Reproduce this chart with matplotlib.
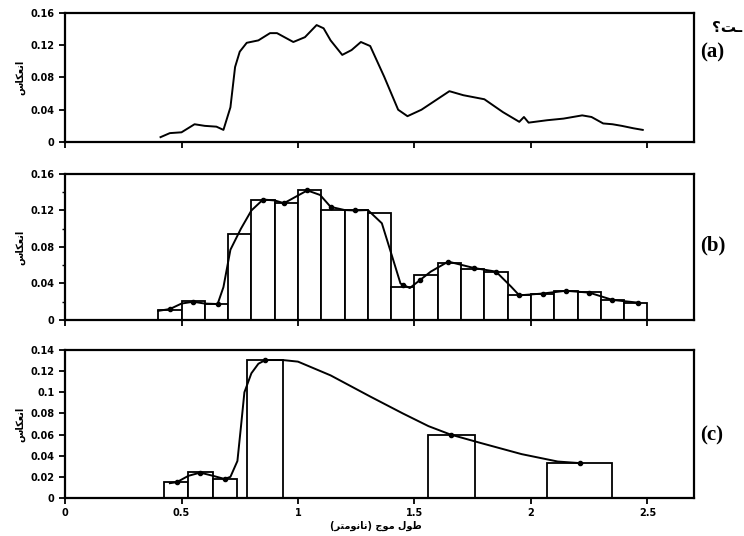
import matplotlib
matplotlib.use('Agg')
import matplotlib.pyplot as plt
from matplotlib.ticker import MultipleLocator, FormatStrFormatter
import numpy as np

# panel (a) - measured spectrum
wl_a = [0.41, 0.45, 0.50, 0.556, 0.60, 0.65, 0.68, 0.71, 0.73, 0.75, 0.78, 0.83, 0.88,
        0.91, 0.98, 1.03, 1.08, 1.11, 1.14, 1.19, 1.23, 1.27, 1.31, 1.37, 1.43, 1.47,
        1.53, 1.65, 1.71, 1.80, 1.88, 1.95, 1.97, 1.99, 2.07, 2.14, 2.22, 2.26, 2.31,
        2.35, 2.39, 2.44, 2.48]
refl_a = [0.006, 0.011, 0.012, 0.022, 0.020, 0.019, 0.015, 0.043, 0.093, 0.112, 0.123,
          0.126, 0.135, 0.135, 0.124, 0.130, 0.145, 0.141, 0.126, 0.108, 0.114, 0.124,
          0.119, 0.081, 0.040, 0.032, 0.040, 0.063, 0.058, 0.053, 0.037, 0.025, 0.031,
          0.024, 0.027, 0.029, 0.033, 0.031, 0.023, 0.022, 0.020, 0.017, 0.015]

# panel (b) - 0.1 um bands
band_lo_b = [0.4, 0.5, 0.6, 0.7, 0.8, 0.9, 1.0, 1.1, 1.2, 1.3, 1.4, 1.5, 1.6, 1.7,
             1.8, 1.9, 2.0, 2.1, 2.2, 2.3, 2.4]
band_hi_b = [0.5, 0.6, 0.7, 0.8, 0.9, 1.0, 1.1, 1.2, 1.3, 1.4, 1.5, 1.6, 1.7, 1.8,
             1.9, 2.0, 2.1, 2.2, 2.3, 2.4, 2.5]
bar_b = [0.011, 0.021, 0.018, 0.094, 0.131, 0.128, 0.142, 0.121, 0.120, 0.117, 0.0365,
         0.049, 0.063, 0.056, 0.053, 0.0274, 0.029, 0.032, 0.031, 0.022, 0.019]
wl_b = [0.40, 0.45, 0.50, 0.55, 0.60, 0.655, 0.68, 0.71, 0.755, 0.80, 0.85, 0.90, 0.94,
        0.99, 1.04, 1.095, 1.14, 1.20, 1.245, 1.30, 1.36, 1.405, 1.44, 1.48, 1.525,
        1.57, 1.645, 1.755, 1.85, 1.915, 1.95, 2.05, 2.15, 2.25, 2.35, 2.46]
refl_b = [0.010, 0.012, 0.018, 0.020, 0.018, 0.0175, 0.036, 0.077, 0.100, 0.120, 0.132,
          0.131, 0.128, 0.135, 0.142, 0.137, 0.124, 0.1205, 0.120, 0.1205, 0.106, 0.069,
          0.040, 0.035, 0.044, 0.053, 0.064, 0.057, 0.053, 0.0365, 0.027, 0.029, 0.032,
          0.030, 0.022, 0.019]
mark_x_b = [0.45, 0.55, 0.655, 0.85, 0.94, 1.04, 1.14, 1.245, 1.45, 1.525, 1.645,
            1.755, 1.85, 1.95, 2.05, 2.15, 2.25, 2.35, 2.46]
mark_y_b = [0.012, 0.020, 0.0175, 0.132, 0.128, 0.142, 0.124, 0.120, 0.038, 0.044,
            0.064, 0.057, 0.053, 0.027, 0.029, 0.032, 0.030, 0.022, 0.019]

# panel (c) - sensor bands
band_lo_c = [0.425, 0.53, 0.635, 0.78, 1.56, 2.07]
band_hi_c = [0.53, 0.635, 0.74, 0.935, 1.76, 2.35]
bar_c = [0.0155, 0.0243, 0.018, 0.1305, 0.060, 0.0328]
wl_c = [0.45, 0.48, 0.53, 0.58, 0.635, 0.685, 0.71, 0.74, 0.755, 0.77, 0.80, 0.83, 0.86,
        0.935, 1.0, 1.14, 1.31, 1.45, 1.56, 1.655, 1.785, 1.96, 2.115, 2.21]
refl_c = [0.014, 0.015, 0.021, 0.024, 0.021, 0.018, 0.020, 0.035, 0.067, 0.100, 0.118,
          0.127, 0.1305, 0.1305, 0.129, 0.116, 0.096, 0.080, 0.068, 0.060, 0.052, 0.0415,
          0.0345, 0.033]
mark_x_c = [0.48, 0.58, 0.685, 0.86, 1.655, 2.21]
mark_y_c = [0.015, 0.024, 0.018, 0.1305, 0.060, 0.033]

xticks = [0, 0.5, 1, 1.5, 2, 2.5]

# Persian text, glyphs in visual order
ylabel_fa = '\uFEB1\uFE8E\uFB91\uFECC\uFEE7\uFE8D'   # انعکاس
xlabel_fa = '(\uFEAE\uFE98\uFEE3\uFEEE\uFEE7\uFE8E\uFEE7) \uFE9D\uFEEE\uFEE3 \uFEDD\uFEEE\uFEC3'  # طول موج (نانومتر)


def style_axes(ax, ymax, ystep, minor=None):
    ax.set_xlim(0, 2.7)
    ax.set_ylim(0, ymax)
    ax.set_xticks(xticks)
    ax.yaxis.set_major_locator(MultipleLocator(ystep))
    ax.yaxis.set_major_formatter(FormatStrFormatter('%g'))
    if minor:
        ax.yaxis.set_minor_locator(MultipleLocator(minor))
    for s in ax.spines.values():
        s.set_linewidth(1.6)
    ax.tick_params(axis='both', which='major', direction='out', length=4, width=1.3,
                   labelsize=7)
    ax.tick_params(axis='y', which='minor', direction='out', length=2.5, width=1)
    for lab in ax.get_yticklabels() + ax.get_xticklabels():
        lab.set_fontweight('bold')


fig = plt.figure(figsize=(7.44, 5.36), dpi=100)
ax_a = fig.add_axes([0.0874, 0.7351, 0.8454, 0.2407])
ax_b = fig.add_axes([0.0874, 0.4030, 0.8454, 0.2724])
ax_c = fig.add_axes([0.0874, 0.0709, 0.8454, 0.2761])

# (a)
ax_a.plot(wl_a, refl_a, color='black', lw=1.4)
style_axes(ax_a, 0.16, 0.04)
ax_a.set_xticklabels([])

# (b)
for lo, hi, h in zip(band_lo_b, band_hi_b, bar_b):
    ax_b.bar(lo, h, width=hi - lo, align='edge', facecolor='white', edgecolor='black',
             linewidth=1.3, zorder=2)
ax_b.plot(wl_b, refl_b, color='black', lw=1.4, zorder=3)
ax_b.plot(mark_x_b, mark_y_b, 'o', color='black', ms=3, zorder=4)
style_axes(ax_b, 0.16, 0.04, minor=0.02)
ax_b.set_xticklabels([])

# (c)
for lo, hi, h in zip(band_lo_c, band_hi_c, bar_c):
    ax_c.bar(lo, h, width=hi - lo, align='edge', facecolor='white', edgecolor='black',
             linewidth=1.3, zorder=2)
ax_c.plot(wl_c, refl_c, color='black', lw=1.4, zorder=3)
ax_c.plot(mark_x_c, mark_y_c, 'o', color='black', ms=3, zorder=4)
style_axes(ax_c, 0.14, 0.02)
ax_c.set_xticklabels(['%g' % t for t in xticks], fontweight='bold')

# y labels
for ax in (ax_a, ax_b, ax_c):
    pos = ax.get_position()
    fig.text(20 / 744, pos.y0 + pos.height / 2, ylabel_fa, rotation=90,
             ha='center', va='center', fontsize=7, fontweight='bold',
             family='DejaVu Sans')

fig.text(376 / 744, 1 - 526 / 536, xlabel_fa, ha='center', va='center',
         fontsize=7, fontweight='bold', family='DejaVu Sans')

# panel letters
serif = ['Liberation Serif', 'DejaVu Serif']
fig.text(700 / 744, 1 - 52 / 536, '(a)', fontsize=15, fontweight='bold',
         family=serif, va='center', ha='left')
fig.text(700 / 744, 1 - 245 / 536, '(b)', fontsize=15, fontweight='bold',
         family=serif, va='center', ha='left')
fig.text(700 / 744, 1 - 435 / 536, '(c)', fontsize=15, fontweight='bold',
         family=serif, va='center', ha='left')
fig.text(712 / 744, 1 - 28 / 536, '\u061F\uFE96\u0640', fontsize=11, fontweight='bold',
         family='DejaVu Sans', va='center', ha='left')

fig.savefig('out.png', dpi=100)
